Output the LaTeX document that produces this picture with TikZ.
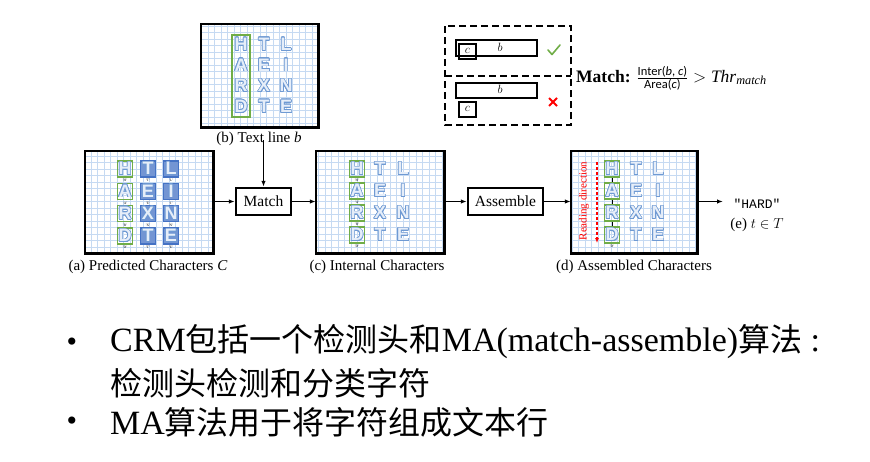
\documentclass[tikz,border=0pt]{standalone}
\usepackage{fontspec}
\setmainfont{Liberation Serif}
\setsansfont{Carlito}
\setmonofont{Liberation Mono}
\newfontfamily\cjk{Noto Sans CJK SC}
\newfontfamily\letfont{Liberation Sans}
\usepackage{contour}
\contourlength{0.7pt}
\contournumber{20}
\usetikzlibrary{arrows.meta}
\definecolor{gridc}{HTML}{C6DAF2}
\definecolor{ltr}{HTML}{6F9AD3}
\definecolor{lfill}{HTML}{E6EEF9}
\definecolor{gbox}{HTML}{70AD47}
\definecolor{bbox}{HTML}{4472C4}
\definecolor{xred}{HTML}{FF0000}
\newcommand\LT[1]{{\color{lfill}\contour{ltr}{#1}}}
\tikzset{
  panel/.style={fill=white, inner sep=0pt},
  border/.style={line width=2.6pt},
  opbox/.style={draw, line width=2.4pt, fill=white, inner sep=0pt, font=\fontsize{15.5}{16}\selectfont},
  captxt/.style={font=\fontsize{15}{16}\selectfont, inner sep=0pt},
  lettr/.style={inner sep=0pt, font=\letfont\bfseries\fontsize{18}{18}\selectfont},
  gsq/.style={draw=gbox, line width=1.6pt, minimum width=15pt, minimum height=16pt, inner sep=0pt},
  bsq/.style={draw=bbox, fill=bbox!75, line width=1.6pt, minimum width=15pt, minimum height=16pt, inner sep=0pt},
  tinylbl/.style={inner sep=0pt, font=\fontsize{3.5}{3.5}\selectfont},
  arr/.style={line width=1.2pt, -{Latex[length=6pt,width=4.5pt]}},
  smallbox/.style={draw, line width=1.8pt, inner sep=0pt},
  dashbox/.style={line width=2.4pt, dash pattern=on 7pt off 4pt},
  body/.style={inner sep=0pt, anchor=west, font=\fontsize{34}{35}\selectfont},
  bul/.style={inner sep=0pt, font=\fontsize{30}{30}\selectfont},
}
\newcommand\CJ[1]{{\cjk\fontsize{32}{35}\selectfont #1}}
\begin{document}
\begin{tikzpicture}[x=1pt,y=-1pt]
\useasboundingbox (0,0) rectangle (870,461);
% ---------- panels ----------
\node[panel, minimum width=117pt, minimum height=103pt] (B) at (259.5,75.5) {};
\node[panel, minimum width=128pt, minimum height=102pt] (A) at (149,202) {};
\node[panel, minimum width=128pt, minimum height=102pt] (C) at (380,202) {};
\node[panel, minimum width=126pt, minimum height=102pt] (D) at (634,202) {};
\foreach \p in {A,B,C,D}{
  \begin{scope}
    \clip (\p.south west) rectangle (\p.north east);
    \draw[gridc, line width=0.5pt, step=6.5pt] (\p.south west) grid (\p.north east);
  \end{scope}
}
% ---------- panel (b) ----------
\draw[gbox, line width=1.8pt] (232,35) rectangle (250,117);
\foreach \l [count=\i] in {H,A,R,D} \node[lettr] (b1\i) at (241,{24+20.7*\i}) {\LT{\l}};
\foreach \l [count=\i] in {T,E,X,T} \node[lettr] (b2\i) at (264,{24+20.7*\i}) {\LT{\l}};
\foreach \l [count=\i] in {L,I,N,E} \node[lettr] (b3\i) at (286,{24+20.7*\i}) {\LT{\l}};
% ---------- panel (a) ----------
\foreach \l [count=\i] in {H,A,R,D}{
  \node[gsq] (a1s\i) at (125,{146.7+22.3*\i}) {};
  \node[lettr] (a1\i) at (a1s\i) {\LT{\l}};
  \node[tinylbl] (a1t\i) at ([yshift=-2.8pt]a1s\i.south) {'\l'};
}
\foreach \l [count=\i] in {T,E,X,T}{
  \node[bsq] (a2s\i) at (148,{146.7+22.3*\i}) {};
  \node[lettr] (a2\i) at (a2s\i) {\LT{\l}};
  \node[tinylbl] (a2t\i) at ([yshift=-2.8pt]a2s\i.south) {'\l'};
}
\foreach \l [count=\i] in {L,I,N,E}{
  \node[bsq] (a3s\i) at (171,{146.7+22.3*\i}) {};
  \node[lettr] (a3\i) at (a3s\i) {\LT{\l}};
  \node[tinylbl] (a3t\i) at ([yshift=-2.8pt]a3s\i.south) {'\l'};
}
% ---------- panel (c) ----------
\foreach \l [count=\i] in {H,A,R,D}{
  \node[gsq] (c1s\i) at (357,{147+22*\i}) {};
  \node[lettr] (c1\i) at (c1s\i) {\LT{\l}};
  \node[tinylbl] (c1t\i) at ([yshift=-2.8pt]c1s\i.south) {'\l'};
}
\foreach \l [count=\i] in {T,E,X,T} \node[lettr] (c2\i) at (380,{147+22*\i}) {\LT{\l}};
\foreach \l [count=\i] in {L,I,N,E} \node[lettr] (c3\i) at (403,{147+22*\i}) {\LT{\l}};
% ---------- panel (d) ----------
\foreach \l [count=\i] in {H,A,R,D}{
  \node[gsq] (d1s\i) at (612,{147+22*\i}) {};
  \node[lettr] (d1\i) at (d1s\i) {\LT{\l}};
}
\foreach \i [count=\j from 2] in {1,2,3} \draw[line width=0.6pt] (d1s\i.south) -- (d1s\j.north);
\node[tinylbl] (d1t4) at ([yshift=-2.8pt]d1s4.south) {'D'};
\foreach \l [count=\i] in {T,E,X,T} \node[lettr] (d2\i) at (636,{147+22*\i}) {\LT{\l}};
\foreach \l [count=\i] in {L,I,N,E} \node[lettr] (d3\i) at (658,{147+22*\i}) {\LT{\l}};
\coordinate (rdtop) at (597,162);
\coordinate (rdbot) at (597,243);
\draw[xred, line width=1.1pt, dash pattern=on 3pt off 2pt, -{Latex[length=5pt,width=4pt]}] (rdtop) -- (rdbot);
\node[xred, rotate=90, inner sep=0pt, font=\fontsize{11}{11}\selectfont] (rdtxt) at (584,201) {Reading direction};
% ---------- borders ----------
\foreach \p in {A,B,C,D} \draw[border] (\p.south west) rectangle (\p.north east);
% ---------- captions ----------
\node[captxt] (capa) at (148,267) {(a) Predicted Characters \textit{C}};
\node[captxt] (capb) at (259,139) {(b) Text line \textit{b}};
\node[captxt] (capc) at (377,267) {(c) Internal Characters};
\node[captxt] (capd) at (634,267) {(d) Assembled Characters};
% ---------- operation boxes ----------
\node[opbox, minimum width=55pt, minimum height=27pt] (match) at (263.5,201.5) {Match};
\node[opbox, minimum width=75pt, minimum height=27pt] (asm) at (505.5,201.5) {Assemble};
\coordinate (eend) at (723,201.5);
\draw[arr] (match.north |- capb.south) ++(0,6pt) -- (match.north);
\draw[arr] (A.east |- match.west) -- (match.west);
\draw[arr] (match.east) -- (C.west |- match.east);
\draw[arr] (C.east |- asm.west) -- (asm.west);
\draw[arr] (asm.east) -- (D.west |- asm.east);
\draw[arr] (D.east |- asm.east) -- (eend);
\node[inner sep=0pt, font=\ttfamily\fontsize{13}{13}\selectfont] (hard) at (757,204) {"HARD"};
\node[inner sep=0pt, font=\fontsize{15}{15}\selectfont] (etT) at (757,225) {(e) $t\in T$};
% ---------- match criterion ----------
\draw[dashbox] (445,26) rectangle (571,125);
\draw[dashbox] (445,76) -- (571,76);
\node[smallbox, minimum width=81pt, minimum height=16pt] (b1) at (496.5,48) {};
\node[inner sep=0pt, font=\fontsize{12}{12}\selectfont] (b1l) at (500,47) {$b$};
\node[smallbox, fill=none, minimum width=17pt, minimum height=15pt] (c1) at (467.5,51.5) {};
\node[inner sep=0pt, font=\fontsize{12}{12}\selectfont] (c1l) at (467.5,51) {$c$};
\node[smallbox, minimum width=81pt, minimum height=15pt] (b2) at (496.5,90.5) {};
\node[inner sep=0pt, font=\fontsize{12}{12}\selectfont] (b2l) at (500,89) {$b$};
\node[smallbox, minimum width=17pt, minimum height=15pt] (c2) at (467.5,109.5) {};
\node[inner sep=0pt, font=\fontsize{12}{12}\selectfont] (c2l) at (467.5,109) {$c$};
\draw[gbox, line width=1.6pt, line cap=round, line join=round] (548,50) -- (552,54.5) -- (560,45);
\draw[xred, line width=1.8pt] (549,98) -- (557,106) (549,106) -- (557,98);
\node[inner sep=0pt, anchor=west, font=\fontsize{17.5}{17.5}\selectfont] (crit) at (576,78)
  {\textbf{Match:} $\frac{\mbox{\sffamily\fontsize{12.5}{12.5}\selectfont Inter(\textit{b}, \textit{c})}}{\mbox{\sffamily\fontsize{12.5}{12.5}\selectfont Area(\textit{c})}} > \mathit{Thr}_{\mathit{match}}$};
% ---------- bullet text ----------
\node[bul] (bul1) at (72,345) {\textbullet};
\node[body] (l1) at (110,342) {CRM\CJ{包括一个检测头和}MA(match-assemble)\CJ{算法} :};
\node[body] (l2) at (110,383) {\CJ{检测头检测和分类字符}};
\node[bul] (bul2) at (72,424) {\textbullet};
\node[body] (l3) at (110,422) {MA\CJ{算法用于将字符组成文本行}};
\end{tikzpicture}
\end{document}
